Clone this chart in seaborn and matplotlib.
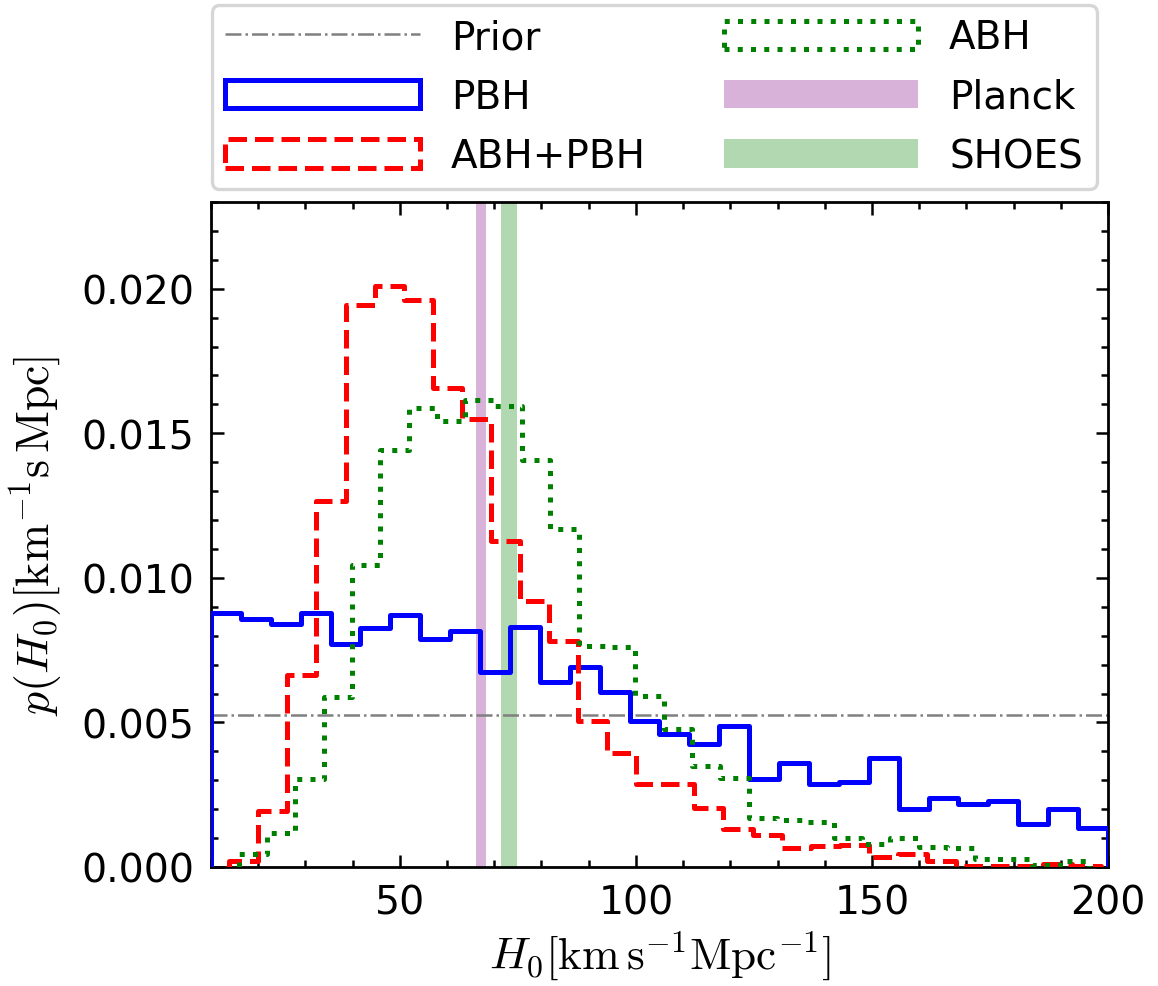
import numpy as np
import pandas as pd
import matplotlib
matplotlib.use("Agg")
import matplotlib.pyplot as plt
import seaborn as sns
from matplotlib.lines import Line2D
from matplotlib.patches import Patch
from matplotlib.ticker import MultipleLocator

# H0 posterior densities [km^-1 s Mpc], 30 equal-width bins over each range
pbh_range = (10.0, 200.0)
pbh_density = [
    0.00880, 0.00857, 0.00841, 0.00880, 0.00772, 0.00825, 0.00871, 0.00790, 0.00815, 0.00675,
    0.00830, 0.00640, 0.00690, 0.00605, 0.00505, 0.00461, 0.00426, 0.00488, 0.00305, 0.00358,
    0.00287, 0.00295, 0.00378, 0.00199, 0.00238, 0.00218, 0.00228, 0.00148, 0.00199, 0.00135,
]

abh_pbh_range = (13.87, 198.6)
abh_pbh_density = [
    0.00022, 0.00192, 0.00664, 0.01267, 0.01945, 0.02009, 0.01960, 0.01655, 0.01550, 0.01127,
    0.00919, 0.00782, 0.00505, 0.00395, 0.00288, 0.00288, 0.00205, 0.00133, 0.00112, 0.00066,
    0.00073, 0.00077, 0.00035, 0.00046, 0.00022, 0.00005, 0.00005, 0.00005, 0.00010, 0.00005,
]

abh_range = (15.9, 195.9)
abh_density = [
    0.00046, 0.00116, 0.00305, 0.00587, 0.01046, 0.01443, 0.01587, 0.01544, 0.01615, 0.01594,
    0.01408, 0.01169, 0.00763, 0.00760, 0.00592, 0.00476, 0.00349, 0.00308, 0.00170, 0.00162,
    0.00157, 0.00099, 0.00080, 0.00099, 0.00069, 0.00066, 0.00028, 0.00027, 0.00008, 0.00022,
]

prior_density = 0.005263
planck_band = (66.2, 68.2)
shoes_band = (71.5, 74.8)

legend_labels = ["Prior", "PBH", "ABH+PBH", "ABH", "Planck", "SHOES"]

BLUE, RED, GREEN, PURPLE = "#0000ff", "#ff0000", "#008000", "#800080"
LW = 1.8

sns.set_theme(style="ticks")
plt.rcParams.update({
    "font.family": ["DejaVu Sans"],
    "mathtext.fontset": "cm",
    "text.color": "black",
    "axes.labelcolor": "black",
    "axes.edgecolor": "black",
    "axes.linewidth": 1.0,
    "xtick.color": "black",
    "ytick.color": "black",
    "xtick.labelsize": 14.2,
    "ytick.labelsize": 14.2,
    "legend.fontsize": 14,
})

fig = plt.figure(figsize=(5.79, 4.935), dpi=200)
ax = fig.add_axes([0.1822, 0.1206, 0.7746, 0.6737])


def step_hist(ax, rng, dens, **kw):
    """Outline histogram of precomputed bin densities, closed down to zero at both ends."""
    dens = np.asarray(dens, dtype=float)
    edges = np.linspace(rng[0], rng[1], len(dens) + 1)
    pad = 1e-6
    full_edges = np.concatenate([[edges[0] - pad], edges, [edges[-1] + pad]])
    heights = np.concatenate([[0.0], dens, [0.0]])
    centers = 0.5 * (full_edges[:-1] + full_edges[1:])
    df = pd.DataFrame({"H0": centers, "w": heights})
    sns.histplot(data=df, x="H0", weights="w", bins=full_edges.tolist(), stat="count",
                 element="step", fill=False, ax=ax, **kw)


# reference bands
ax.axvspan(*planck_band, color=PURPLE, alpha=0.3, lw=0, zorder=1)
ax.axvspan(*shoes_band, color=GREEN, alpha=0.3, lw=0, zorder=1)

step_hist(ax, pbh_range, pbh_density, color=BLUE, linewidth=LW, linestyle="-", zorder=3)
step_hist(ax, abh_pbh_range, abh_pbh_density, color=RED, linewidth=LW, linestyle="--", zorder=3)
step_hist(ax, abh_range, abh_density, color=GREEN, linewidth=LW, linestyle=":", zorder=3)

ax.axhline(prior_density, color="gray", linestyle="-.", linewidth=0.9, zorder=2)

ax.set_xlim(10, 200)
ax.set_ylim(0, 0.023)
ax.xaxis.set_major_locator(MultipleLocator(50))
ax.xaxis.set_minor_locator(MultipleLocator(10))
ax.yaxis.set_major_locator(MultipleLocator(0.005))
ax.yaxis.set_minor_locator(MultipleLocator(0.001))
ax.tick_params(which="both", direction="in", top=True, right=True, width=0.9)
ax.tick_params(which="major", length=4.5, pad=6)
ax.tick_params(which="minor", length=2.5)

ax.set_xlabel(r"$H_0[\mathrm{km\,s^{-1}Mpc^{-1}}]$", fontsize=16.3, labelpad=2.5)
ax.set_ylabel(r"$p(H_0)[\mathrm{km^{-1}s\,Mpc}]$", fontsize=16.5, labelpad=6)

handles = [
    Line2D([], [], color="gray", linestyle="-.", linewidth=0.9),
    Patch(facecolor="none", edgecolor=BLUE, linewidth=LW),
    Patch(facecolor="none", edgecolor=RED, linewidth=LW, linestyle="--"),
    Patch(facecolor="none", edgecolor=GREEN, linewidth=LW, linestyle=":"),
    Patch(facecolor=PURPLE, alpha=0.3, linewidth=0),
    Patch(facecolor=GREEN, alpha=0.3, linewidth=0),
]
leg = ax.legend(handles, legend_labels, ncol=2, loc="lower center",
                bbox_to_anchor=(0.494, 1.02), borderaxespad=0.0,
                handlelength=5.0, handleheight=0.75,
                handletextpad=0.8, columnspacing=2.0, labelspacing=0.55,
                frameon=True, fancybox=True, edgecolor="0.8", framealpha=0.8,
                borderpad=0.35, fontsize=14)
leg.get_frame().set_linewidth(1.2)

fig.savefig("out.png", dpi=200)
